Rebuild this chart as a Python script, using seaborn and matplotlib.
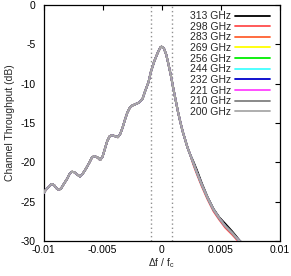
import numpy as np
import pandas as pd
import matplotlib
matplotlib.use("Agg")
import matplotlib.pyplot as plt
import seaborn as sns

# channel throughput vs normalised frequency offset
freqs = ["313 GHz", "298 GHz", "283 GHz", "269 GHz", "256 GHz",
         "244 GHz", "232 GHz", "221 GHz", "210 GHz", "200 GHz"]
colors = ["#000000", "#ff4d4d", "#ff6030", "#ffff00", "#00ee00",
          "#40ffff", "#0000cc", "#ff40ff", "#808080", "#a8a8a8"]

# shared part of the response (all curves coincide here)
x_head = [-0.0100, -0.0098, -0.0095, -0.0093, -0.0091, -0.0089, -0.0087,
          -0.0085, -0.0083, -0.0080, -0.0078, -0.0076, -0.0074, -0.0071,
          -0.0069, -0.0067, -0.0064, -0.0061, -0.0059, -0.0057, -0.0054,
          -0.0052, -0.0050, -0.0048, -0.0046, -0.0044, -0.0042, -0.0039,
          -0.0037, -0.0035, -0.0033, -0.0031, -0.0029, -0.0027, -0.0025,
          -0.0022, -0.0019, -0.0016, -0.0014, -0.0011, -0.0009, -0.0006,
          -0.0003, -0.0001, 0.0000, 0.0002, 0.0004, 0.0006, 0.0008,
          0.0010, 0.0012, 0.0014, 0.0016, 0.0018, 0.0020, 0.0022, 0.0024]
y_head = [-23.9, -23.5, -23.0, -22.75, -22.9, -23.3, -23.5,
          -23.3, -22.8, -22.1, -21.5, -21.2, -21.25, -21.6,
          -21.8, -21.5, -20.8, -20.0, -19.4, -19.2, -19.4,
          -19.7, -19.3, -18.3, -17.3, -16.7, -16.55, -16.7,
          -16.8, -16.4, -15.6, -14.6, -13.7, -13.1, -12.8,
          -12.6, -12.4, -11.9, -11.0, -9.8, -8.5, -7.1,
          -6.0, -5.4, -5.3, -5.5, -6.3, -7.6, -9.0,
          -10.6, -12.1, -13.6, -14.9, -16.1, -17.1, -18.1, -18.9]

# tail where the curves separate slightly
x_tail = [0.0027, 0.0030, 0.0034, 0.0039, 0.0044, 0.0049, 0.0054, 0.0060, 0.0066, 0.0070]
tail_base = [-20.1, -21.3, -22.8, -24.5, -26.0, -27.1, -28.1, -29.0, -30.0, -30.6]
tail_313 = [-19.9, -21.0, -22.6, -24.4, -25.9, -27.0, -27.8, -28.8, -29.9, -30.5]
tail_298 = [-20.3, -21.5, -23.0, -24.7, -26.2, -27.3, -28.3, -29.2, -30.2, -30.8]

tails = {f: tail_base for f in freqs}
tails["313 GHz"] = tail_313
tails["298 GHz"] = tail_298

band_edges = [-0.00085, 0.00085]

rows = []
for f in freqs:
    for x, y in zip(x_head + x_tail, y_head + tails[f]):
        rows.append({"df": x, "thr": y, "freq": f})
df = pd.DataFrame(rows)

sns.set_theme(style="white")
plt.rcParams["font.family"] = ["Liberation Sans", "DejaVu Sans"]
plt.rcParams["mathtext.default"] = "regular"

fig, ax = plt.subplots(figsize=(2.91, 2.76), dpi=100)
fig.subplots_adjust(left=43.5 / 291, right=279.5 / 291, top=1 - 5 / 276, bottom=1 - 241 / 276)

for e in band_edges:
    ax.axvline(e, color="#909090", linestyle=(0, (1, 2)), linewidth=1.0, zorder=1)

palette = dict(zip(freqs, colors))
sns.lineplot(data=df, x="df", y="thr", hue="freq", hue_order=freqs, palette=palette,
             estimator=None, sort=True, linewidth=1.4, ax=ax, legend=False, zorder=3)

handles = [plt.Line2D([], [], color=c, linewidth=1.3) for c in colors]
ax.legend(handles, freqs, loc="upper right", markerfirst=False, frameon=False,
          fontsize=7.5, handlelength=3.3, labelspacing=0.06, handletextpad=0.4,
          borderaxespad=0.2, bbox_to_anchor=(0.985, 1.0))

ax.set_xlim(-0.01, 0.01)
ax.set_ylim(-30, 0)
ax.set_xticks([-0.01, -0.005, 0, 0.005, 0.01])
ax.set_xticklabels(["-0.01", "-0.005", "0", "0.005", "0.01"])
ax.set_yticks([0, -5, -10, -15, -20, -25, -30])
ax.set_yticklabels(["0", "-5", "-10", "-15", "-20", "-25", "-30"])
ax.tick_params(direction="in", top=True, right=True, length=3.5, width=0.8,
               labelsize=7.5, colors="black")
ax.tick_params(axis="y", pad=5.5)
ax.tick_params(axis="x", pad=3)
for s in ax.spines.values():
    s.set_color("black")
    s.set_linewidth(0.9)

ax.set_xlabel("Δf / f$_c$", fontsize=7.5, labelpad=1)
ax.set_ylabel("Channel Throughput (dB)", fontsize=7.5, labelpad=4)

fig.savefig("out.png", dpi=100)
